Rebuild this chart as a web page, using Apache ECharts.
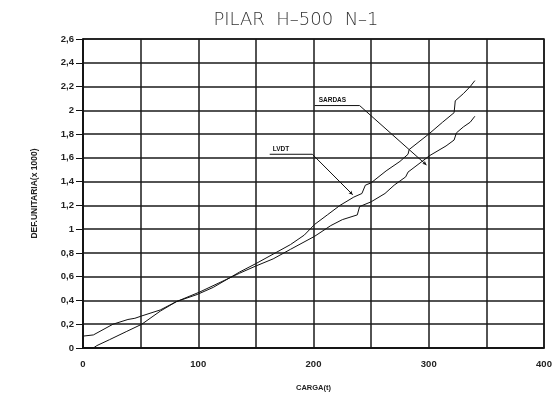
<!DOCTYPE html>
<html>
<head>
<meta charset="utf-8">
<script src="https://cdn.jsdelivr.net/npm/echarts@6/dist/echarts.min.js"></script>
<style>
  html, body { margin: 0; padding: 0; background: #fff; }
  #chart { width: 558px; height: 397px; }
</style>
</head>
<body>
<div id="chart"></div>
<script>
// Load (t) vs unit strain (x1000) for column H-500 N-1
const lvdtLoad   = [0, 0, 9, 26, 39, 45, 51, 67, 81, 99, 113, 136, 150, 165, 180, 192, 201, 212, 223, 235, 242, 245, 250, 263, 275, 282, 283, 300, 312, 322, 323, 330, 336, 340];
const lvdtStrain = [0, 0.10, 0.11, 0.20, 0.24, 0.25, 0.27, 0.32, 0.39, 0.45, 0.51, 0.64, 0.71, 0.79, 0.87, 0.95, 1.04, 1.12, 1.20, 1.27, 1.30, 1.37, 1.39, 1.49, 1.57, 1.63, 1.67, 1.80, 1.90, 1.98, 2.08, 2.14, 2.20, 2.25];

const sardasLoad   = [0, 9, 12, 23, 38, 51, 67, 81, 101, 136, 150, 165, 180, 201, 215, 225, 238, 240, 250, 262, 270, 280, 282, 301, 315, 322, 324, 330, 336, 340];
const sardasStrain = [0, 0.00, 0.02, 0.07, 0.14, 0.20, 0.31, 0.39, 0.47, 0.63, 0.69, 0.75, 0.83, 0.94, 1.03, 1.08, 1.12, 1.19, 1.23, 1.30, 1.37, 1.44, 1.48, 1.62, 1.70, 1.75, 1.81, 1.86, 1.90, 1.95];

// Callout leaders (data coordinates): label anchor, underline end, pointer tip
const sardasLeader = [[201, 2.04], [240, 2.04], [298, 1.54]];
const lvdtLeader   = [[162, 1.63], [199, 1.63], [234, 1.29]];

const xTicks = { min: 0, max: 400, step: 50 };
const yTicks = { min: 0, max: 2.6, step: 0.2 };

const zip = (a, b) => a.map((v, i) => [v, b[i]]);

const fmtY = v => {
  const s = (Math.round(v * 10) / 10).toString();
  return s.replace('.', ',');
};

const chart = echarts.init(document.getElementById('chart'), null, { renderer: 'canvas' });

const lineStyle = { color: '#111', width: 1 };
const gridLine = { show: true, lineStyle: { color: '#1a1a1a', width: 1.5 } };
const labelFont = { fontFamily: 'Liberation Sans', fontWeight: 'bold', color: '#222' };

// A callout: underline drawn as a short line, pointer drawn as an arrowed markLine
const callout = (name, pts) => ({
  name, type: 'line', data: pts.slice(0, 2), showSymbol: false, silent: true,
  lineStyle: { color: '#111', width: 1 }, z: 4,
  markLine: {
    silent: true, symbol: ['none', 'arrow'], symbolSize: [3, 4],
    label: { show: false },
    lineStyle: { color: '#111', width: 1, type: 'solid' },
    data: [[{ coord: pts[1] }, { coord: pts[2] }]]
  }
});

chart.setOption({
  animation: false,
  backgroundColor: '#fff',
  title: {
    text: 'PILAR  H–500  N–1',
    left: 291, top: 6, textAlign: 'center',
    textStyle: { fontFamily: 'DejaVu Sans', fontSize: 18, fontWeight: 200, color: '#333' }
  },
  grid: { left: 83, right: 14, top: 39, bottom: 43, show: true, borderColor: '#111', borderWidth: 1.5 },
  xAxis: {
    type: 'value', min: xTicks.min, max: xTicks.max, interval: xTicks.step,
    name: 'CARGA(t)', nameLocation: 'middle', nameGap: 36,
    nameTextStyle: Object.assign({ fontSize: 7.5 }, labelFont),
    axisLine: { show: true, lineStyle: { color: '#111', width: 1.5 } },
    axisTick: { show: false },
    axisLabel: Object.assign({
      margin: 11, fontSize: 9.5,
      formatter: v => (v % 100 === 0 ? String(v) : '')
    }, labelFont),
    splitLine: gridLine
  },
  yAxis: {
    type: 'value', min: yTicks.min, max: yTicks.max, interval: yTicks.step,
    name: 'DEF.UNITARIA(x 1000)', nameLocation: 'middle', nameGap: 44,
    nameTextStyle: Object.assign({ fontSize: 8.5 }, labelFont),
    axisLine: { show: true, lineStyle: { color: '#111', width: 1.5 } },
    axisTick: { show: true, length: 7, lineStyle: { color: '#111', width: 1 } },
    axisLabel: Object.assign({ margin: 9, fontSize: 9.5, formatter: fmtY }, labelFont),
    splitLine: gridLine
  },
  series: [
    { name: 'LVDT', type: 'line', data: zip(lvdtLoad, lvdtStrain), showSymbol: false, lineStyle, z: 3 },
    { name: 'SARDAS', type: 'line', data: zip(sardasLoad, sardasStrain), showSymbol: false, lineStyle, z: 3 },
    callout('sardasLeader', sardasLeader),
    callout('lvdtLeader', lvdtLeader)
  ]
});

// Callout texts sit just above the start of each leader underline
function placeCallouts() {
  const items = [
    { text: 'SARDAS', at: sardasLeader[0], dx: 4 },
    { text: 'LVDT', at: lvdtLeader[0], dx: 3 }
  ];
  chart.setOption({
    graphic: items.map(it => {
      const p = chart.convertToPixel({ gridIndex: 0 }, it.at);
      return {
        type: 'text', x: p[0] + it.dx, y: p[1] - 2,
        style: { text: it.text, fontFamily: 'Liberation Sans', fontSize: 6.5, fontWeight: 'bold', fill: '#111', textVerticalAlign: 'bottom' }
      };
    })
  });
}
placeCallouts();
</script>
</body>
</html>
